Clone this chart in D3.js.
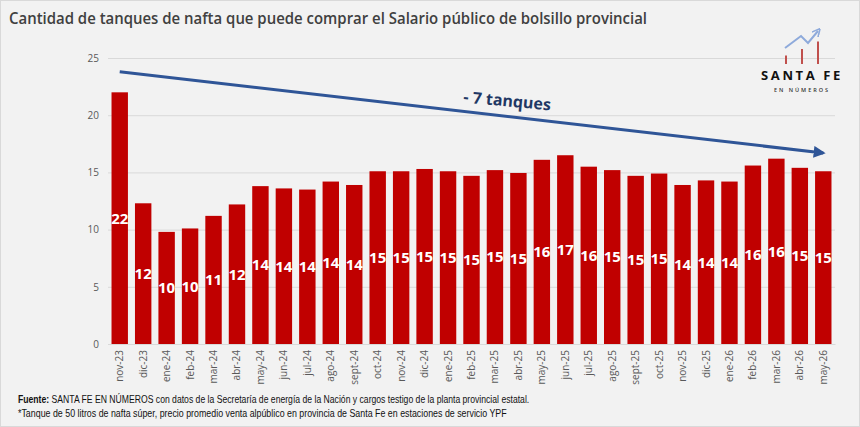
<!DOCTYPE html>
<html>
<head>
  <meta charset="utf-8">
  <title>Tanques de nafta - Salario público</title>
  <style>
    body { margin: 0; background: #fff; }
    svg { display: block; }
  </style>
  <script src="https://d3js.org/d3.v7.min.js"></script>
</head>
<body>
  <div id="chart"></div>
  <script>
    // data
    const months = ["nov-23", "dic-23", "ene-24", "feb-24", "mar-24", "abr-24", "may-24", "jun-24",
      "jul-24", "ago-24", "sept-24", "oct-24", "nov-24", "dic-24", "ene-25", "feb-25", "mar-25",
      "abr-25", "may-25", "jun-25", "jul-25", "ago-25", "sept-25", "oct-25", "nov-25", "dic-25",
      "ene-26", "feb-26", "mar-26", "abr-26", "may-26"];
    const tanques = [22.0, 12.3, 9.8, 10.1, 11.2, 12.2, 13.8, 13.6, 13.5, 14.2, 13.9, 15.1, 15.1,
      15.3, 15.1, 14.7, 15.2, 14.95, 16.1, 16.5, 15.5, 15.2, 14.7, 14.9, 13.9, 14.3, 14.2, 15.6,
      16.2, 15.4, 15.1];
    const yTicks = [0, 5, 10, 15, 20, 25];
    const trend = [{ month: "nov-23", value: 23.8 }, { month: "may-26", value: 16.7 }];
    const trendLabel = "- 7 tanques";

    const W = 860, H = 427;
    const svg = d3.select("#chart").append("svg").attr("width", W).attr("height", H);

    svg.append("rect").attr("x", 0.5).attr("y", 0.5).attr("width", W - 1).attr("height", H - 1)
      .attr("fill", "#f2f2f2").attr("stroke", "#d9d9d9");

    const x = d3.scaleBand().domain(months).range([108, 835]).paddingInner(0.3).paddingOuter(0.15);
    const y = d3.scaleLinear().domain([0, 25]).range([344, 58]);

    // grid
    svg.append("g").selectAll("line").data(yTicks).join("line")
      .attr("x1", 108).attr("x2", 835)
      .attr("y1", d => y(d) + 0.5).attr("y2", d => y(d) + 0.5)
      .attr("stroke", "#d9d9d9").attr("stroke-width", 1);

    const yAxis = svg.append("g").attr("transform", "translate(108,0)")
      .call(d3.axisLeft(y).tickValues(yTicks).tickSize(0).tickPadding(9));
    yAxis.select(".domain").remove();
    yAxis.selectAll("text").attr("fill", "#595959")
      .style("font-family", "'Open Sans', sans-serif").style("font-size", "10px");

    // bars
    svg.append("g").selectAll("rect").data(tanques).join("rect")
      .attr("x", (d, i) => x(months[i]))
      .attr("y", d => y(d))
      .attr("width", x.bandwidth())
      .attr("height", d => y(0) - y(d))
      .attr("fill", "#c00000");

    // value labels, centred in the bar
    svg.append("g").selectAll("text").data(tanques).join("text")
      .attr("x", (d, i) => x(months[i]) + x.bandwidth() / 2)
      .attr("y", d => y(d / 2))
      .attr("dy", "0.36em")
      .attr("text-anchor", "middle")
      .attr("fill", "#fff")
      .style("font-family", "'Open Sans', sans-serif")
      .style("font-weight", "700")
      .style("font-size", "15px")
      .text(d => Math.round(d));

    // x axis
    const xAxis = svg.append("g").attr("transform", "translate(0,344)")
      .call(d3.axisBottom(x).tickSize(0).tickPadding(0));
    xAxis.select(".domain").attr("stroke", "#d9d9d9");
    xAxis.selectAll("text")
      .attr("transform", "rotate(-90)")
      .attr("text-anchor", "end")
      .attr("x", -6).attr("y", 0).attr("dy", "0.35em")
      .attr("fill", "#595959")
      .style("font-family", "'Open Sans', sans-serif").style("font-size", "10px");

    // trend arrow
    const defs = svg.append("defs");
    defs.append("marker").attr("id", "head").attr("viewBox", "0 0 10 10")
      .attr("refX", 8).attr("refY", 5).attr("markerWidth", 4).attr("markerHeight", 4)
      .attr("orient", "auto")
      .append("path").attr("d", "M0,0 L10,5 L0,10 Z").attr("fill", "#2f5597");

    const tx = d => x(d.month) + x.bandwidth() / 2;
    const p0 = [tx(trend[0]), y(trend[0].value)];
    const p1 = [tx(trend[1]), y(trend[1].value)];
    svg.append("line")
      .attr("x1", p0[0]).attr("y1", p0[1]).attr("x2", p1[0]).attr("y2", p1[1])
      .attr("stroke", "#2f5597").attr("stroke-width", 3)
      .attr("marker-end", "url(#head)");

    const ang = Math.atan2(p1[1] - p0[1], p1[0] - p0[0]) * 180 / Math.PI;
    const t = 0.55;
    const lx = p0[0] + t * (p1[0] - p0[0]), ly = p0[1] + t * (p1[1] - p0[1]) - 10;
    svg.append("text")
      .attr("transform", `translate(${lx},${ly}) rotate(${ang * 0.8})`)
      .attr("text-anchor", "middle")
      .attr("fill", "#1f3864")
      .style("font-family", "'Open Sans', sans-serif")
      .style("font-weight", "700")
      .style("font-size", "16px")
      .text(trendLabel);

    // title
    svg.append("text").attr("x", 9).attr("y", 24)
      .attr("fill", "#404040")
      .attr("textLength", 638).attr("lengthAdjust", "spacingAndGlyphs")
      .style("font-family", "'Open Sans', sans-serif")
      .style("font-weight", "600")
      .style("font-size", "16px")
      .text("Cantidad de tanques de nafta que puede comprar el Salario público de bolsillo provincial");

    // logo
    const logo = svg.append("g");
    [[786, 55.5], [802, 49], [818, 41.5]].forEach(([bx, top]) => {
      logo.append("line").attr("x1", bx).attr("x2", bx).attr("y1", 64).attr("y2", top)
        .attr("stroke", "#c0504d").attr("stroke-width", 2);
    });
    defs.append("marker").attr("id", "head2").attr("viewBox", "0 0 10 10")
      .attr("refX", 6).attr("refY", 5).attr("markerWidth", 4).attr("markerHeight", 4)
      .attr("orient", "auto")
      .append("path").attr("d", "M0,0 L10,5 L0,10").attr("fill", "none")
      .attr("stroke", "#8eaadb").attr("stroke-width", 2);
    logo.append("path").attr("d", "M785,48 L801,36 L808,43 L818,31")
      .attr("fill", "none").attr("stroke", "#8eaadb").attr("stroke-width", 2)
      .attr("marker-end", "url(#head2)");
    logo.append("text").attr("x", 802).attr("y", 80).attr("text-anchor", "middle")
      .attr("fill", "#111")
      .style("font-family", "'Open Sans', sans-serif").style("font-weight", "700")
      .style("font-size", "13px").style("letter-spacing", "2.6px")
      .text("SANTA FE");
    logo.append("text").attr("x", 802).attr("y", 92).attr("text-anchor", "middle")
      .attr("fill", "#333")
      .style("font-family", "'Open Sans', sans-serif").style("font-weight", "600")
      .style("font-size", "5.5px").style("letter-spacing", "2px")
      .text("EN NÚMEROS");

    // footnotes, squeezed horizontally to the narrow width of the original
    function footnote(yPos, target, parts) {
      const g = svg.append("g").attr("transform", `translate(18,${yPos})`);
      const t = g.append("text").attr("fill", "#111")
        .style("font-family", "'Liberation Sans', sans-serif")
        .style("font-size", "10px");
      parts.forEach(([txt, bold]) => {
        t.append("tspan").style("font-weight", bold ? "700" : "400").text(txt);
      });
      const w = t.node().getComputedTextLength();
      g.attr("transform", `translate(18,${yPos}) scale(${target / w},1)`);
    }
    footnote(403, 512, [["Fuente: ", true],
      ["SANTA FE EN NÚMEROS con datos de la Secretaría de energía de la Nación y cargos testigo de la planta provincial estatal.", false]]);
    footnote(417, 489, [["*Tanque de 50 litros de nafta súper, precio promedio venta alpúblico en provincia de Santa Fe en estaciones de servicio YPF", false]]);
  </script>
</body>
</html>
